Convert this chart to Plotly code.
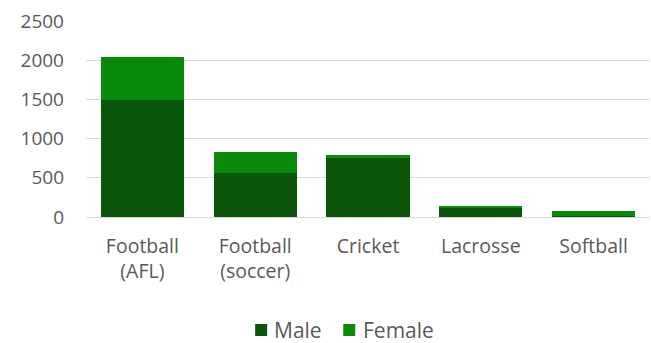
import plotly.graph_objects as go

sports = ["Football<br>(AFL)", "Football<br>(soccer)", "Cricket", "Lacrosse", "Softball"]
male = [1490, 565, 760, 115, 15]
female = [545, 270, 25, 30, 60]
y_ticks = [0, 500, 1000, 1500, 2000, 2500]

MALE_COLOR = "#0b560b"
FEMALE_COLOR = "#0a8a0a"
TEXT_COLOR = "#595959"
FONT = "Open Sans"

fig = go.Figure()
fig.add_trace(go.Bar(name="Male", x=sports, y=male, marker_color=MALE_COLOR,
                     marker_line_width=0, showlegend=False))
fig.add_trace(go.Bar(name="Female", x=sports, y=female, marker_color=FEMALE_COLOR,
                     marker_line_width=0, showlegend=False))

# legend below the plot: a colored square (paper-coordinate box) and the series name
legend_items = [("Male", MALE_COLOR, 0.2999, 0.3301),
                ("Female", FEMALE_COLOR, 0.4561, 0.4880)]
LEGEND_Y = -0.5765
SQ_W, SQ_H = 0.0213, 0.0612
annotations, shapes = [], []
for name, color, sq_x, txt_x in legend_items:
    shapes.append(dict(
        type="rect", xref="paper", yref="paper",
        x0=sq_x, x1=sq_x + SQ_W, y0=LEGEND_Y - SQ_H / 2, y1=LEGEND_Y + SQ_H / 2,
        fillcolor=color, line_width=0,
    ))
    annotations.append(dict(
        x=txt_x, y=LEGEND_Y, xref="paper", yref="paper", xanchor="left", yanchor="middle",
        showarrow=False, text=name, font=dict(family=FONT, size=21, color=TEXT_COLOR),
    ))

fig.update_layout(
    barmode="stack",
    bargap=0.263,
    width=651, height=343,
    margin=dict(l=86, r=1, t=21, b=126, autoexpand=False),
    paper_bgcolor="white",
    plot_bgcolor="white",
    font=dict(family=FONT, size=19, color=TEXT_COLOR),
    showlegend=False,
    annotations=annotations,
    shapes=shapes,
    xaxis=dict(showgrid=False, showline=False, ticks="", automargin=False,
               ticklabelstandoff=15, tickfont=dict(size=19.5, color=TEXT_COLOR)),
    yaxis=dict(range=[0, 2500], tickvals=y_ticks, showgrid=True, gridcolor="#d9d9d9",
               gridwidth=1, zeroline=True, zerolinecolor="#d9d9d9", zerolinewidth=1,
               showline=False, ticks="", ticklabelstandoff=21, automargin=False,
               tickfont=dict(size=19, color=TEXT_COLOR)),
)

fig.write_html("out.html")
